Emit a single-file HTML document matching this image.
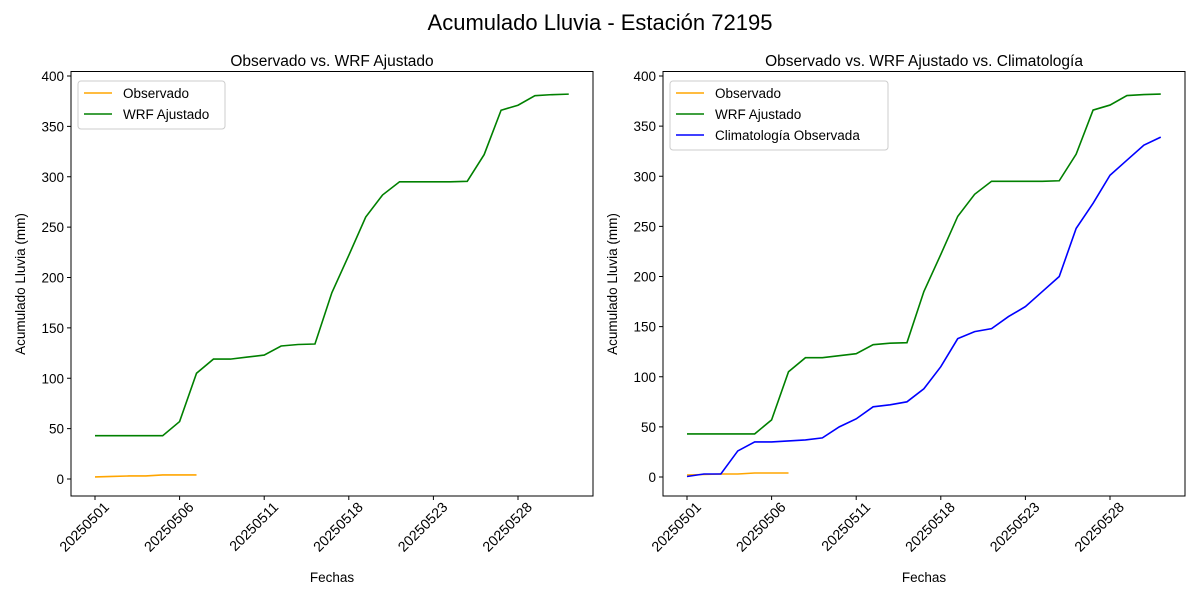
<!DOCTYPE html>
<html><head><meta charset="utf-8"><style>
body{margin:0;background:#fff}
svg text{font-family:"Liberation Sans","DejaVu Sans",sans-serif;fill:#000}
</style></head><body>
<svg id="s" width="1200" height="600" xmlns="http://www.w3.org/2000/svg">
<text x="600" y="30" font-size="22" text-anchor="middle">Acumulado Lluvia - Estación 72195</text>
</svg>
<script>
const s=document.getElementById('s');let h='';
const wrf=[43,43,43,43,43,57,105,119,119,121,123,132,133.5,134,185,222,260,282,295,295,295,295,295.5,322,366,371,380.5,381.5,382];
const obs=[2,2.5,3,3,4,4,4];
const cli=[0.5,3,3,26,35,35,36,37,39,50,58,70,72,75,88,110,138,145,148,160,170,185,200,248,273,301,316,331,339];
const labs=['20250501','20250506','20250511','20250518','20250523','20250528'];
function panel(x0,y0v,y400,title,series,leg){
  const X=i=>x0+24+i*16.92, Y=v=>y0v-(y0v-y400)*v/400;
  h+=`<text x="${x0+261}" y="66" font-size="15.5" text-anchor="middle">${title}</text>`;
  for(let v=0;v<=400;v+=50){const y=Y(v);h+=`<line x1="${x0-4}" x2="${x0}" y1="${y}" y2="${y}" stroke="#000"/><text x="${x0-7}" y="${y+5}" font-size="13.5" text-anchor="end">${v}</text>`;}
  labs.forEach((l,k)=>{const x=X(k*5);h+=`<line x1="${x}" x2="${x}" y1="496" y2="500" stroke="#000"/><text transform="translate(${x+15},${508}) rotate(-45)" font-size="14.2" text-anchor="end">${l}</text>`;});
  series.forEach(([d,c])=>{h+=`<polyline fill="none" stroke="${c}" stroke-width="1.6" points="${d.map((v,i)=>X(i)+','+Y(v)).join(' ')}"/>`;});
  h+=`<rect x="${x0}" y="71.5" width="522" height="424.5" fill="none" stroke="#000" stroke-width="1"/>`;
  h+=`<text x="${x0+261}" y="582" font-size="13.5" text-anchor="middle">Fechas</text>`;
  h+=`<text transform="translate(${x0-46},${284}) rotate(-90)" font-size="13.5" text-anchor="middle">Acumulado Lluvia (mm)</text>`;
  const lw=leg.w, lh=6+leg.items.length*21;
  h+=`<rect x="${x0+7}" y="81" width="${lw}" height="${lh}" rx="3" fill="#fff" fill-opacity="0.8" stroke="#ccc"/>`;
  leg.items.forEach(([t,c],i)=>{const y=93+i*21;h+=`<line x1="${x0+13}" x2="${x0+41}" y1="${y}" y2="${y}" stroke="${c}" stroke-width="1.6"/><text x="${x0+52}" y="${y+5}" font-size="13.5">${t}</text>`;});
}
panel(71,479,76,'Observado vs. WRF Ajustado',[[wrf,'green'],[obs,'orange']],{w:147,items:[['Observado','orange'],['WRF Ajustado','green']]});
panel(663,477,76,'Observado vs. WRF Ajustado vs. Climatología',[[wrf,'green'],[obs,'orange'],[cli,'blue']],{w:218,items:[['Observado','orange'],['WRF Ajustado','green'],['Climatología Observada','blue']]});
s.insertAdjacentHTML('beforeend',h);
</script>
</body></html>
